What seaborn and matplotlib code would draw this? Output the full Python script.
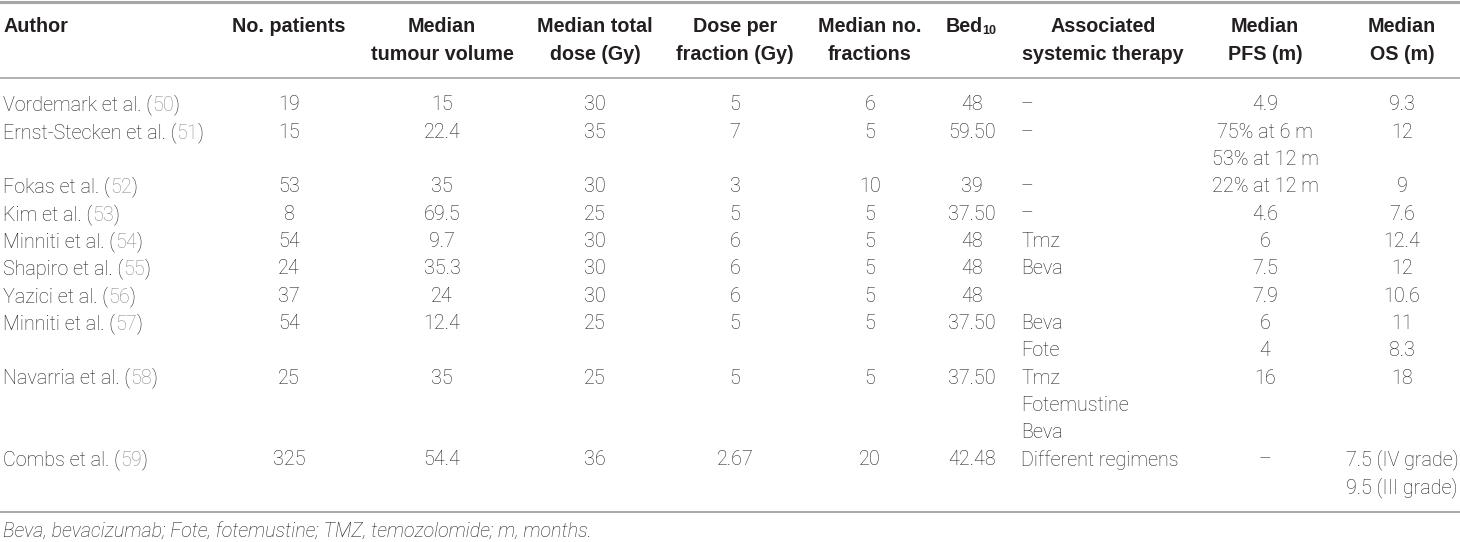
import matplotlib
matplotlib.use('Agg')
import matplotlib.pyplot as plt
import seaborn as sns

sns.set_theme(style='white')
plt.rcParams['font.family'] = ['Roboto', 'DejaVu Sans']

# table content, one entry per printed line
authors = ['Vordemark et al. (', 'Ernst-Stecken et al. (', '', 'Fokas et al. (', 'Kim et al. (',
           'Minniti et al. (', 'Shapiro et al. (', 'Yazici et al. (', 'Minniti et al. (', '',
           'Navarria et al. (', '', '', 'Combs et al. (', '']
refs = ['50', '51', '', '52', '53', '54', '55', '56', '57', '', '58', '', '', '59', '']
patients = ['19', '15', '', '53', '8', '54', '24', '37', '54', '', '25', '', '', '325', '']
volume = ['15', '22.4', '', '35', '69.5', '9.7', '35.3', '24', '12.4', '', '35', '', '', '54.4', '']
total_dose = ['30', '35', '', '30', '25', '30', '30', '30', '25', '', '25', '', '', '36', '']
dose_fraction = ['5', '7', '', '3', '5', '6', '6', '6', '5', '', '5', '', '', '2.67', '']
n_fractions = ['6', '5', '', '10', '5', '5', '5', '5', '5', '', '5', '', '', '20', '']
bed10 = ['48', '59.50', '', '39', '37.50', '48', '48', '48', '37.50', '', '37.50', '', '', '42.48', '']
therapy = ['–', '–', '', '–', '–', 'Tmz', 'Beva', '', 'Beva', 'Fote', 'Tmz', 'Fotemustine', 'Beva',
           'Different regimens', '']
pfs = ['4.9', '75% at 6 m', '53% at 12 m', '22% at 12 m', '4.6', '6', '7.5', '7.9', '6', '4', '16',
       '', '', '–', '']
os_m = ['9.3', '12', '', '9', '7.6', '12.4', '12', '10.6', '11', '8.3', '18', '', '',
        '7.5 (IV grade)', '9.5 (III grade)']

headers = [('Author', ''), ('No. patients', ''), ('Median', 'tumour volume'),
           ('Median total', 'dose (Gy)'), ('Dose per', 'fraction (Gy)'),
           ('Median no.', 'fractions'), ('Bed', ''), ('Associated', 'systemic therapy'),
           ('Median', 'PFS (m)'), ('Median', 'OS (m)')]
footnote = 'Beva, bevacizumab; Fote, fotemustine; TMZ, temozolomide; m, months.'

INK = '#231f20'
GREY = '#8a8a8a'
RULE = '#a6a6a6'
BODY = dict(fontsize=14.2, fontweight='light', color=INK)
HEAD = dict(fontsize=14.2, fontweight='bold', color=INK, family=['Liberation Sans', 'DejaVu Sans'])

fig = plt.figure(figsize=(14.6, 5.42), dpi=100)
ax = fig.add_axes([0, 0, 1, 1])
ax.set_xlim(0, 1460)
ax.set_ylim(542, 0)
ax.axis('off')

# header
col_x = [3, 289, 442, 595, 735, 870, 946, 1103, 1265, 1402]
for i, (l1, l2) in enumerate(headers):
    ha = 'left' if i in (0, 6) else 'center'
    t = ax.text(col_x[i], 27, l1, ha=ha, va='center', **HEAD)
    if l2:
        ax.text(col_x[i], 55, l2, ha=ha, va='center', **HEAD)
    if l1 == 'Bed':
        ax.annotate('10', xy=(1, 0), xycoords=t, xytext=(-0.8, -0.3), textcoords='offset points',
                    ha='left', va='bottom', fontsize=9, fontweight='bold', color=INK,
                    family=['Liberation Sans', 'DejaVu Sans'])

ax.axhline(1.5, color=RULE, lw=2.2)
ax.axhline(78, color=RULE, lw=1.2)

# body
y0, step = 105, 27.3
centred = [(patients, 289), (volume, 442), (total_dose, 595), (dose_fraction, 735),
           (n_fractions, 870), (bed10, 972), (pfs, 1265), (os_m, 1402)]
for r in range(len(authors)):
    y = y0 + r * step
    if authors[r]:
        t = ax.text(3, y, authors[r], ha='left', va='center', **BODY)
        t2 = ax.annotate(refs[r], xy=(1, 0), xycoords=t, ha='left', va='bottom',
                         fontsize=14.2, fontweight='light', color=GREY)
        ax.annotate(')', xy=(1, 0), xycoords=t2, ha='left', va='bottom', **BODY)
    for vals, x in centred:
        if vals[r]:
            ax.text(x, y, vals[r], ha='center', va='center', **BODY)
    if therapy[r]:
        ax.text(1021, y, therapy[r], ha='left', va='center', **BODY)

ax.axhline(512, color='#9a9a9a', lw=1.2)
ax.text(3, 532, footnote, ha='left', va='center', fontsize=14.2, fontweight='light',
        style='italic', color=INK)

fig.savefig('out.png', dpi=100)
